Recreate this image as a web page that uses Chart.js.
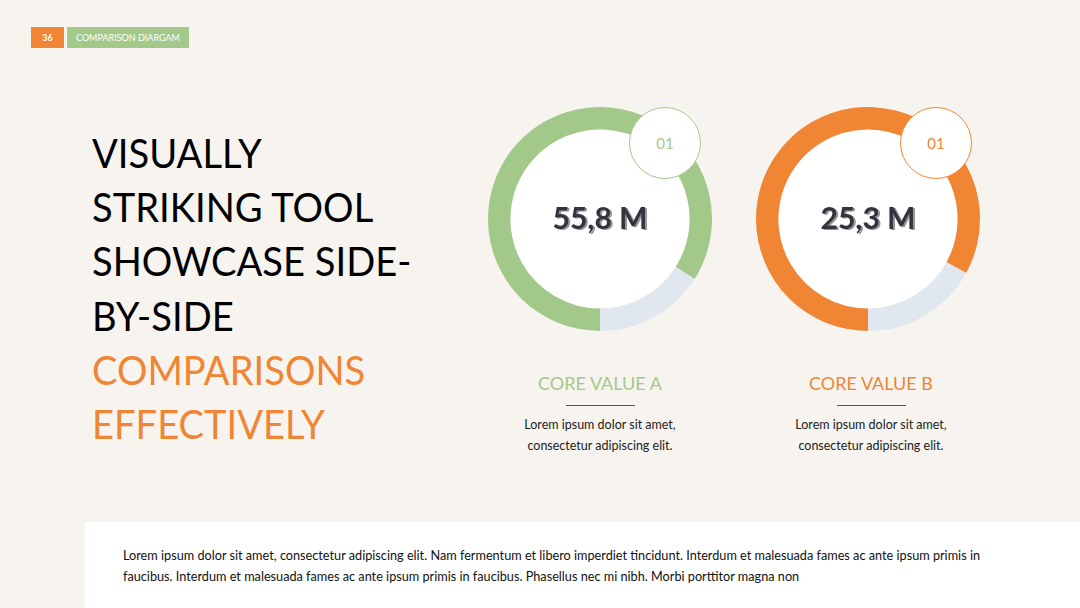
<!DOCTYPE html>
<html>
<head>
<meta charset="utf-8">
<script src="https://cdn.jsdelivr.net/npm/chart.js@4"></script>
<style>
  html, body { margin: 0; padding: 0; }
  body { width: 1080px; height: 608px; background: #f7f4f0; position: relative; overflow: hidden; font-family: Lato, "Open Sans", sans-serif; }
  .tag_num { position: absolute; left: 31px; top: 27px; width: 33px; height: 21px; background: #f08533; color: #fff; font-size: 9px; line-height: 21px; text-align: center; font-weight: bold; }
  .tag_txt { position: absolute; left: 67px; top: 27px; width: 122px; height: 21px; background: #a2c98a; color: #fff; font-size: 9px; line-height: 21px; text-align: center; }
  .headline { position: absolute; left: 92px; top: 126px; font-size: 41px; line-height: 54.2px; color: #000; transform: scaleX(0.93); transform-origin: left top; white-space: nowrap; }
  .headline .accent { color: #f08533; }
  .ring { position: absolute; width: 240px; height: 240px; }
  .badge { position: absolute; width: 70px; height: 70px; border-radius: 50%; background: #fff; font-size: 15px; line-height: 70px; text-align: center; }
  .core { position: absolute; width: 260px; text-align: center; }
  .core h3 { margin: 0; font-size: 18px; font-weight: normal; line-height: 22px; }
  .core hr { width: 69px; border: 0; border-top: 1px solid #555; margin: 11px auto 8px; }
  .core p { margin: 0; font-size: 12.5px; line-height: 21px; color: #222; }
  .footer_box { position: absolute; left: 85px; top: 522px; width: 995px; height: 86px; background: #fff; }
  .footer_box p { margin: 0; position: absolute; left: 38px; top: 23px; width: 875px; font-size: 12.7px; line-height: 21px; color: #111; }
</style>
</head>
<body>
<div class="tag_num">36</div>
<div class="tag_txt">COMPARISON DIARGAM</div>

<div class="headline">VISUALLY<br>STRIKING TOOL<br>SHOWCASE SIDE-<br>BY-SIDE<br><span class="accent">COMPARISONS<br>EFFECTIVELY</span></div>

<div class="ring" style="left:480px; top:99px;"><canvas id="ring-a" width="240" height="240"></canvas></div>
<div class="ring" style="left:748px; top:99px;"><canvas id="ring-b" width="240" height="240"></canvas></div>
<div class="badge" style="left:629px; top:107px; border:1px solid #a2c98a; color:#a2c98a;">01</div>
<div class="badge" style="left:900px; top:107px; border:1px solid #f08533; color:#f08533;">01</div>

<div class="core" style="left:470px; top:372px;">
  <h3 style="color:#a2c98a;">CORE VALUE A</h3>
  <hr>
  <p>Lorem ipsum dolor sit amet,<br>consectetur adipiscing elit.</p>
</div>
<div class="core" style="left:741px; top:372px;">
  <h3 style="color:#f08533;">CORE VALUE B</h3>
  <hr>
  <p>Lorem ipsum dolor sit amet,<br>consectetur adipiscing elit.</p>
</div>

<div class="footer_box">
  <p>Lorem ipsum dolor sit amet, consectetur adipiscing elit. Nam fermentum et libero imperdiet tincidunt. Interdum et malesuada fames ac ante ipsum primis in faucibus. Interdum et malesuada fames ac ante ipsum primis in faucibus. Phasellus nec mi nibh. Morbi porttitor magna non</p>
</div>

<script>
"use strict";

// share of each ring that is filled, rest is the grey track
const ringLabels = ["Value", "Rest"];
const valueA = [84, 16];
const valueB = [83, 17];
const centerLabels = ["55,8 M", "25,3 M"];
const ringColors = ["#a2c98a", "#f08533"];
const trackColor = "#e1e7ee";

// white disc + big number in the middle of each ring
const centerPlugin = {
    id: "centerPlugin",
    beforeDatasetsDraw(chart) {
        const arc = chart.getDatasetMeta(0).data[0];
        const ctx = chart.ctx;
        ctx.save();
        ctx.beginPath();
        ctx.arc(arc.x, arc.y, arc.innerRadius, 0, Math.PI * 2);
        ctx.fillStyle = "#ffffff";
        ctx.fill();
        ctx.restore();
    },
    afterDatasetsDraw(chart, args, opts) {
        const arc = chart.getDatasetMeta(0).data[0];
        const ctx = chart.ctx;
        ctx.save();
        ctx.font = "bold 30px Lato, sans-serif";
        ctx.textAlign = "center";
        ctx.textBaseline = "middle";
        ctx.fillStyle = "rgba(60,60,70,0.55)";
        ctx.fillText(opts.text, arc.x + 2, arc.y + 1);
        ctx.fillStyle = "#34343e";
        ctx.fillText(opts.text, arc.x, arc.y);
        ctx.restore();
    }
};

function makeRing(canvasId, values, color, text) {
    const ctx = document.getElementById(canvasId).getContext("2d");
    return new Chart(ctx, {
        type: "doughnut",
        data: {
            labels: ringLabels,
            datasets: [{
                data: values,
                backgroundColor: [color, trackColor],
                borderWidth: 0
            }]
        },
        options: {
            responsive: false,
            animation: false,
            rotation: 180,
            radius: 112,
            cutout: "80%",
            layout: { padding: 0 },
            plugins: {
                legend: { display: false },
                tooltip: { enabled: false },
                centerPlugin: { text: text }
            }
        },
        plugins: [centerPlugin]
    });
}

makeRing("ring-a", valueA, ringColors[0], centerLabels[0]);
makeRing("ring-b", valueB, ringColors[1], centerLabels[1]);
</script>
</body>
</html>
